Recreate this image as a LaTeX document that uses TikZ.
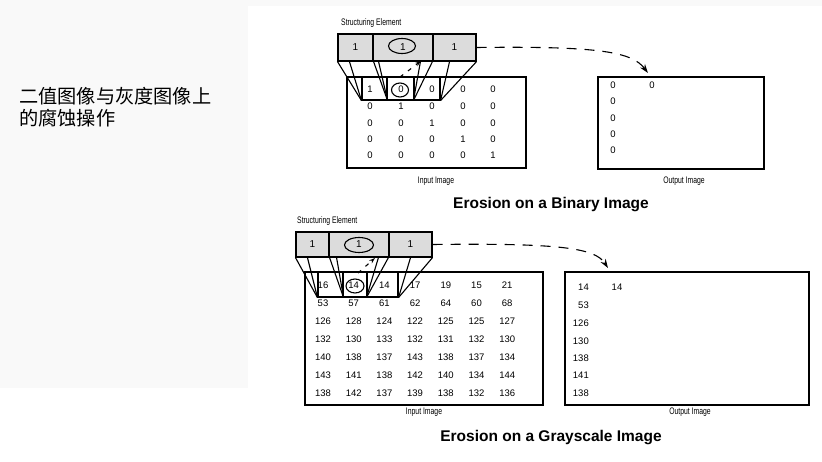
\documentclass[tikz,border=0pt]{standalone}
\usepackage{fontspec}
\setmainfont{Liberation Sans}
\newfontfamily\cjk{Noto Sans CJK SC}
\newfontfamily\narrowfont[FakeStretch=0.72]{Liberation Sans}
\usepackage{tikz}
\usetikzlibrary{shapes.geometric,arrows.meta,positioning,calc}
\usepackage{xcolor}
\definecolor{panelgray}{HTML}{F9F9F9}
\definecolor{sefill}{HTML}{DCDCDC}

\begin{document}
\begin{tikzpicture}[x=1pt, y=-1pt,
    secell/.style={rectangle, draw, fill=sefill, line width=1.1pt, inner sep=0pt, font=\fontsize{10}{11}\selectfont},
    imgbox/.style={rectangle, draw, line width=1.1pt, inner sep=0pt},
    win/.style={rectangle, draw, line width=1.1pt, inner sep=0pt},
    num/.style={font=\fontsize{9.5}{10}\selectfont, inner sep=0pt},
    lbl/.style={font=\narrowfont\fontsize{9.5}{10}\selectfont, inner sep=0pt},
    ttl/.style={font=\bfseries\fontsize{15.5}{17}\selectfont, inner sep=0pt},
    ring/.style={ellipse, draw, line width=1.1pt, inner sep=0pt},
    proj/.style={line width=1.1pt},
    flow/.style={line width=1.1pt, dash pattern=on 10pt off 8pt, -{Stealth[length=9pt, width=6pt]}},
    hint/.style={line width=1.1pt, dash pattern=on 4pt off 6pt, -{Stealth[length=6pt, width=4pt]}},
    >=Stealth
]
    \useasboundingbox (0,0) rectangle (822,462);
    \fill[white] (0,0) rectangle (822,462);
    \fill[panelgray] (0,0) rectangle (248,388);
    \fill[panelgray] (248,0) rectangle (822,6);

    % Title
    \node[anchor=north west, align=left, inner sep=0pt, font=\cjk\fontsize{19.2}{22}\selectfont] (title) at (19,87)
        {二值图像与灰度图像上\\的腐蚀操作};

    % Binary: structuring element
    \node[lbl, anchor=west] (binSeLbl) at (341,23) {Structuring Element};
    \node[secell, minimum width=35pt, minimum height=27pt] (binS1) at (355.5,47.5) {1};
    \node[secell, minimum width=60pt, minimum height=27pt] (binS2) at (403,47.5) {1};
    \node[secell, minimum width=43pt, minimum height=27pt] (binS3) at (454.5,47.5) {1};
    \node[ring, minimum width=27pt, minimum height=15pt] (binSeRing) at (402,46) {};

    % Binary: input and output images
    \node[imgbox, minimum width=179pt, minimum height=91pt] (binIn) at (436.5,122.5) {};
    \node[imgbox, minimum width=166pt, minimum height=92pt] (binOut) at (681,123) {};
    \node[lbl] (binInLbl) at (436,181) {Input Image};
    \node[lbl] (binOutLbl) at (684,181) {Output Image};

    % Binary: window
    \node[win, minimum width=25pt, minimum height=23pt] (binW1) at (374.5,88.5) {};
    \node[win, minimum width=27pt, minimum height=23pt] (binW2) at (400.5,88.5) {};
    \node[win, minimum width=26pt, minimum height=23pt] (binW3) at (427,88.5) {};

    \foreach \r/\y in {1/89,2/106,3/123,4/139,5/155}
        \foreach \c/\x in {1/370,2/401,3/432,4/463,5/493} {
            \pgfmathtruncatemacro\v{\r==\c}
            \node[num] (b\r\c) at (\x,\y) {\v};
        }
    \node[ring, minimum width=17pt, minimum height=14pt] (binRing) at (400,90) {};

    \foreach \y [count=\r] in {85,101,118,134,150}
        \node[num] (bo\r) at (613,\y) {0};
    \node[num] (bo0) at (652,85) {0};

    % Binary: projection lines
    \draw[proj] (binS1.south west) -- (binW1.south west);
    \draw[proj] ($(binS1.south west)+(12,0)$) -- (binW1.south west);
    \draw[proj] (binS1.south east) -- (binW1.south east);
    \draw[proj] ($(binS1.south east)+(5,0)$) -- (binW1.south east);
    \draw[proj] (binS3.south west) -- (binW3.south west);
    \draw[proj] ($(binS3.south west)+(-12,0)$) -- (binW3.south west);
    \draw[proj] (binS3.south east) -- (binW3.south east);
    \draw[proj] ($(binS3.south east)+(-27,0)$) -- (binW3.south east);

    \coordinate (binHint) at (421,61);
    \draw[hint] (400,77) -- (binHint);
    \coordinate (binTip) at (648,73);
    \draw[flow] (binS3.east) .. controls (600,46) and (632,52) .. (binTip);

    \node[ttl] (binTtl) at (551,205) {Erosion on a Binary Image};

    % Grayscale: structuring element
    \node[lbl, anchor=west] (graySeLbl) at (297,221) {Structuring Element};
    \node[secell, minimum width=33pt, minimum height=25pt] (grayS1) at (312.5,244.5) {1};
    \node[secell, minimum width=60pt, minimum height=25pt] (grayS2) at (359,244.5) {1};
    \node[secell, minimum width=43pt, minimum height=25pt] (grayS3) at (410.5,244.5) {1};
    \node[ring, minimum width=29pt, minimum height=15pt] (graySeRing) at (359,245) {};

    % Grayscale: input and output images
    \node[imgbox, minimum width=238pt, minimum height=133pt] (grayIn) at (424,338.5) {};
    \node[imgbox, minimum width=244pt, minimum height=133pt] (grayOut) at (687,338.5) {};
    \node[lbl] (grayInLbl) at (424,412) {Input Image};
    \node[lbl] (grayOutLbl) at (690,412) {Output Image};

    % Grayscale: window
    \node[win, minimum width=25pt, minimum height=25pt] (grayW1) at (330.5,284.5) {};
    \node[win, minimum width=24pt, minimum height=25pt] (grayW2) at (355,284.5) {};
    \node[win, minimum width=31pt, minimum height=25pt] (grayW3) at (382.5,284.5) {};

    \foreach \vals [count=\r] in {{16,14,14,17,19,15,21},{53,57,61,62,64,60,68},
            {126,128,124,122,125,125,127},{132,130,133,132,131,132,130},
            {140,138,137,143,138,137,134},{143,141,138,142,140,134,144},
            {138,142,137,139,138,132,136}}
        \foreach \v [count=\c] in \vals
            \node[num] (g\r-\c) at ({323+(\c-1)*30.7},{285+(\r-1)*18}) {\v};
    \node[ring, minimum width=18pt, minimum height=14pt] (grayRing) at (355,286) {};

    \foreach \v/\y [count=\r] in {14/287,53/305,126/323,130/341,138/358,141/375,138/393}
        \node[num, anchor=east] (go\r) at (589,\y) {\v};
    \node[num] (go0) at (617,287) {14};

    % Grayscale: projection lines
    \draw[proj] (grayS1.south west) -- (grayW1.south west);
    \draw[proj] ($(grayS1.south west)+(12,0)$) -- (grayW1.south west);
    \draw[proj] (grayS1.south east) -- (grayW1.south east);
    \draw[proj] ($(grayS1.south east)+(7,0)$) -- (grayW1.south east);
    \draw[proj] (grayS3.south west) -- (grayW3.south west);
    \draw[proj] ($(grayS3.south west)+(-10,0)$) -- (grayW3.south west);
    \draw[proj] (grayS3.south east) -- (grayW3.south east);
    \draw[proj] ($(grayS3.south east)+(-22,0)$) -- (grayW3.south east);

    \coordinate (grayHint) at (375,258);
    \draw[hint] (358,273) -- (grayHint);
    \coordinate (grayTip) at (608,268);
    \draw[flow] (grayS3.east) .. controls (560,243) and (595,248) .. (grayTip);

    \node[ttl] (grayTtl) at (551,438) {Erosion on a Grayscale Image};
\end{tikzpicture}
\end{document}
